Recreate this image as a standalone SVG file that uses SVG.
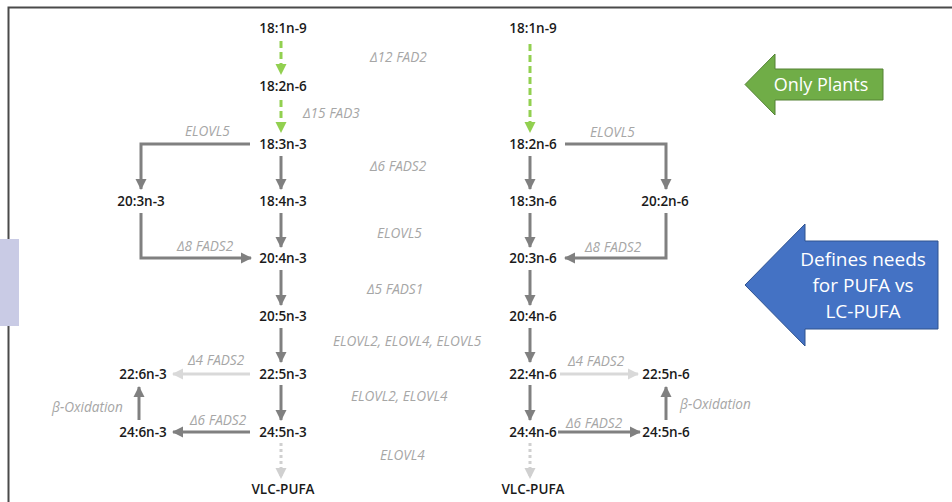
<svg xmlns="http://www.w3.org/2000/svg" width="952" height="502" viewBox="0 0 952 502">
<defs>
<style>
.n{font-family:"Open Sans","Liberation Sans",sans-serif;font-size:13.5px;font-weight:600;fill:#1a1a1a;text-anchor:middle}
.l{font-family:"Open Sans","Liberation Sans",sans-serif;font-size:13.6px;font-style:italic;fill:#a6a6a6}
.g{stroke:#808080;stroke-width:3;fill:none}
.lt{stroke:#d9d9d9;stroke-width:3;fill:none}
.gr{stroke:#92d050;stroke-width:3;fill:none;stroke-dasharray:7,4}
.dt{stroke:#d0d0d0;stroke-width:3;fill:none;stroke-dasharray:3,3}
.w{font-family:"Open Sans","Liberation Sans",sans-serif;fill:#ffffff;text-anchor:middle}
</style>
<marker id="ag" markerUnits="userSpaceOnUse" markerWidth="12" markerHeight="12" refX="10" refY="6" orient="auto"><path d="M0,0.5 L11,6 L0,11.5 Z" fill="#808080"/></marker>
<marker id="al" markerUnits="userSpaceOnUse" markerWidth="12" markerHeight="12" refX="10" refY="6" orient="auto"><path d="M0,0.5 L11,6 L0,11.5 Z" fill="#d9d9d9"/></marker>
<marker id="agr" markerUnits="userSpaceOnUse" markerWidth="12" markerHeight="12" refX="10" refY="6" orient="auto"><path d="M0,0.5 L11,6 L0,11.5 Z" fill="#92d050"/></marker>
<marker id="ad" markerUnits="userSpaceOnUse" markerWidth="12" markerHeight="12" refX="10" refY="6" orient="auto"><path d="M0,0.5 L11,6 L0,11.5 Z" fill="#d0d0d0"/></marker>
</defs>
<rect x="0" y="0" width="952" height="502" fill="#ffffff"/>
<path d="M8.5,502 V7.5 H952" stroke="#4a4a4a" stroke-width="2" fill="none"/>
<rect x="0" y="239" width="19" height="87" fill="#c9cbe5"/>

<g id="connectors">
<line class="gr" x1="281" y1="41" x2="281" y2="74" marker-end="url(#agr)"/>
<line class="gr" x1="281" y1="100" x2="281" y2="132" marker-end="url(#agr)"/>
<line class="g" x1="281" y1="156" x2="281" y2="189" marker-end="url(#ag)"/>
<polyline class="g" points="250,144 141,144 141,189" marker-end="url(#ag)"/>
<polyline class="g" points="141,213 141,258 251,258" marker-end="url(#ag)"/>
<line class="g" x1="281" y1="213" x2="281" y2="247" marker-end="url(#ag)"/>
<line class="g" x1="281" y1="270" x2="281" y2="305" marker-end="url(#ag)"/>
<line class="g" x1="281" y1="328" x2="281" y2="362" marker-end="url(#ag)"/>
<line class="g" x1="281" y1="385" x2="281" y2="420" marker-end="url(#ag)"/>
<line class="dt" x1="281" y1="443" x2="281" y2="478" marker-end="url(#ad)"/>
<line class="lt" x1="250" y1="374" x2="173" y2="374" marker-end="url(#al)"/>
<line class="g" x1="250" y1="432" x2="173" y2="432" marker-end="url(#ag)"/>
<line class="g" x1="139" y1="420" x2="139" y2="387" marker-end="url(#ag)"/>

<line class="gr" x1="530" y1="44" x2="530" y2="132" marker-end="url(#agr)"/>
<line class="g" x1="530" y1="156" x2="530" y2="189" marker-end="url(#ag)"/>
<polyline class="g" points="565,144 666,144 666,189" marker-end="url(#ag)"/>
<polyline class="g" points="666,213 666,258 565,258" marker-end="url(#ag)"/>
<line class="g" x1="530" y1="213" x2="530" y2="247" marker-end="url(#ag)"/>
<line class="g" x1="530" y1="270" x2="530" y2="305" marker-end="url(#ag)"/>
<line class="g" x1="530" y1="328" x2="530" y2="362" marker-end="url(#ag)"/>
<line class="g" x1="530" y1="385" x2="530" y2="420" marker-end="url(#ag)"/>
<line class="dt" x1="530" y1="443" x2="530" y2="478" marker-end="url(#ad)"/>
<line class="lt" x1="560" y1="374" x2="638" y2="374" marker-end="url(#al)"/>
<line class="g" x1="558" y1="432" x2="640" y2="432" marker-end="url(#ag)"/>
<line class="g" x1="666" y1="420" x2="666" y2="387" marker-end="url(#ag)"/>
</g>

<g id="labels">
<text class="l" x="370" y="62">∆12 FAD2</text>
<text class="l" x="303" y="118">∆15 FAD3</text>
<text class="l" x="185" y="136">ELOVL5</text>
<text class="l" x="370" y="171">∆6 FADS2</text>
<text class="l" x="377" y="238">ELOVL5</text>
<text class="l" x="177" y="251">∆8 FADS2</text>
<text class="l" x="367" y="294">∆5 FADS1</text>
<text class="l" x="333" y="346">ELOVL2, ELOVL4, ELOVL5</text>
<text class="l" x="188" y="365">∆4 FADS2</text>
<text class="l" x="351" y="401">ELOVL2, ELOVL4</text>
<text class="l" x="52" y="412">β-Oxidation</text>
<text class="l" x="190" y="425">∆6 FADS2</text>
<text class="l" x="380" y="460">ELOVL4</text>
<text class="l" x="590" y="137">ELOVL5</text>
<text class="l" x="585" y="252">∆8 FADS2</text>
<text class="l" x="568" y="366">∆4 FADS2</text>
<text class="l" x="566" y="428">∆6 FADS2</text>
<text class="l" x="680" y="409">β-Oxidation</text>
</g>

<g id="n-18-1n-9-a"><text class="n" x="283" y="33">18:1n-9</text></g>
<g id="n-18-2n-6-a"><text class="n" x="283" y="91">18:2n-6</text></g>
<g id="n-18-3n-3"><text class="n" x="283" y="149">18:3n-3</text></g>
<g id="n-20-3n-3"><text class="n" x="141" y="206">20:3n-3</text></g>
<g id="n-18-4n-3"><text class="n" x="283" y="206">18:4n-3</text></g>
<g id="n-20-4n-3"><text class="n" x="283" y="263">20:4n-3</text></g>
<g id="n-20-5n-3"><text class="n" x="283" y="321">20:5n-3</text></g>
<g id="n-22-6n-3"><text class="n" x="143" y="379">22:6n-3</text></g>
<g id="n-22-5n-3"><text class="n" x="283" y="379">22:5n-3</text></g>
<g id="n-24-6n-3"><text class="n" x="143" y="437">24:6n-3</text></g>
<g id="n-24-5n-3"><text class="n" x="283" y="437">24:5n-3</text></g>
<g id="n-vlc-a"><text class="n" x="283" y="494">VLC-PUFA</text></g>

<g id="n-18-1n-9-b"><text class="n" x="533" y="33">18:1n-9</text></g>
<g id="n-18-2n-6-b"><text class="n" x="533" y="149">18:2n-6</text></g>
<g id="n-18-3n-6"><text class="n" x="533" y="206">18:3n-6</text></g>
<g id="n-20-2n-6"><text class="n" x="665" y="206">20:2n-6</text></g>
<g id="n-20-3n-6"><text class="n" x="533" y="263">20:3n-6</text></g>
<g id="n-20-4n-6"><text class="n" x="533" y="321">20:4n-6</text></g>
<g id="n-22-4n-6"><text class="n" x="533" y="379">22:4n-6</text></g>
<g id="n-22-5n-6"><text class="n" x="666" y="379">22:5n-6</text></g>
<g id="n-24-4n-6"><text class="n" x="533" y="437">24:4n-6</text></g>
<g id="n-24-5n-6"><text class="n" x="666" y="437">24:5n-6</text></g>
<g id="n-vlc-b"><text class="n" x="533" y="494">VLC-PUFA</text></g>

<g id="only-plants">
<path d="M745,84.5 L775,54 L775,69 L883,69 L883,100 L775,100 L775,115 Z" fill="#70ad47" stroke="#548235" stroke-width="1"/>
<text class="w" x="821" y="91" font-size="18">Only Plants</text>
</g>
<g id="defines-needs">
<path d="M745,285 L805,224 L805,241 L938,241 L938,329 L805,329 L805,346 Z" fill="#4472c4" stroke="#2f528f" stroke-width="1"/>
<text class="w" x="863" y="266" font-size="19">Defines needs</text>
<text class="w" x="863" y="292" font-size="19">for PUFA vs</text>
<text class="w" x="863" y="318" font-size="19">LC-PUFA</text>
</g>
</svg>
